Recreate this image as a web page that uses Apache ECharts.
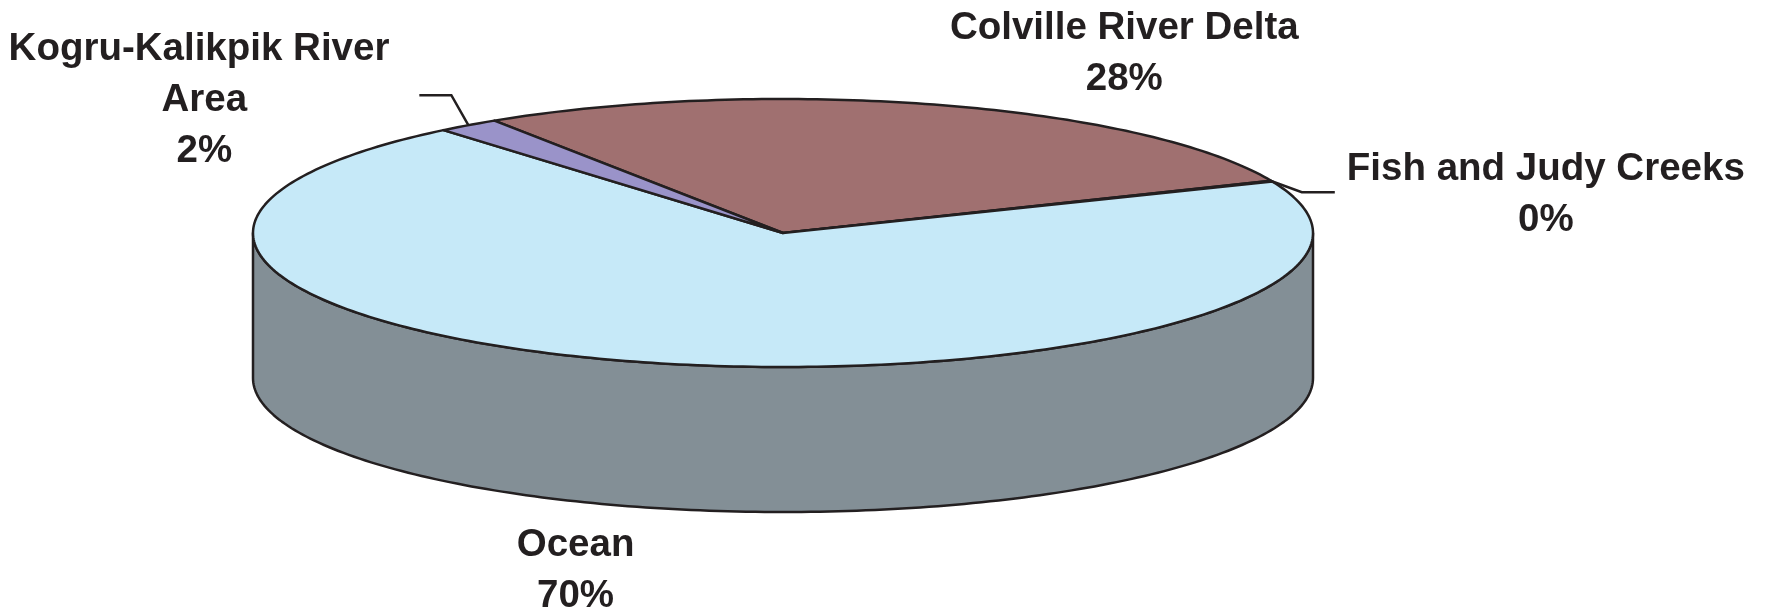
<!DOCTYPE html>
<html>
<head>
<meta charset="utf-8">
<title>Share by area</title>
<script src="https://cdn.jsdelivr.net/npm/echarts@6/dist/echarts.min.js"></script>
<style>
  html, body { margin: 0; background: #fff; }
  #chart { width: 1769px; height: 615px; }
</style>
</head>
<body>
<div id="chart"></div>
<script>
// slices in clockwise order, starting from the Colville/Kogru edge
const categories = ['Colville River Delta', 'Fish and Judy Creeks', 'Ocean', 'Kogru-Kalikpik River Area'];
const shares = [27.8, 0.1, 70.2, 1.9];

const topColors = ['#a07070', '#a9c4da', '#c6e9f8', '#9a93c9'];
const sideColors = ['#6f4e4e', '#76848e', '#838f96', '#6b6692'];

// label offsets from the slice rim point, leader line bends relative to that point
const labelLayout = [
  { dx: 186, dy: -51 },
  { dx: 274, dy: 14, leader: [[30, 11], [63, 11]] },
  { dx: -81, dy: 63, onWall: true },
  { dx: -264, dy: -25, width: 396, leader: [[-17, -30], [-49, -30]] }
];

const PIE = { cx: 783, cy: 233, rx: 530, ry: 134, depth: 145, startAngle: 123 };
const INK = '#231f20';

const total = shares.reduce((a, b) => a + b, 0);
const slices = [];
let acc = PIE.startAngle;
shares.forEach((v) => {
  const span = (v / total) * 360;
  slices.push({ hi: acc, lo: acc - span });
  acc -= span;
});

function rim(deg, drop) {
  const r = (deg * Math.PI) / 180;
  return [PIE.cx + PIE.rx * Math.cos(r), PIE.cy - PIE.ry * Math.sin(r) + (drop || 0)];
}

function arc(from, to, drop) {
  const n = Math.max(2, Math.ceil(Math.abs(to - from)));
  const pts = [];
  for (let i = 0; i <= n; i++) pts.push(rim(from + ((to - from) * i) / n, drop));
  return pts;
}

function renderWall(params) {
  const s = slices[params.dataIndex];
  const children = [];
  // front half of the rim is -180..0 degrees (mod 360)
  for (let k = -2; k <= 1; k++) {
    const a = Math.max(s.lo, -180 + 360 * k);
    const b = Math.min(s.hi, 360 * k);
    if (b - a > 0.01) {
      children.push({
        type: 'polygon',
        shape: { points: arc(a, b, 0).concat(arc(b, a, PIE.depth)) },
        style: { fill: sideColors[params.dataIndex], stroke: INK, lineWidth: 2.5, lineJoin: 'round' }
      });
    }
  }
  return { type: 'group', children };
}

function renderTop(params) {
  const s = slices[params.dataIndex];
  return {
    type: 'polygon',
    shape: { points: [[PIE.cx, PIE.cy]].concat(arc(s.hi, s.lo, 0)) },
    style: { fill: topColors[params.dataIndex], stroke: INK, lineWidth: 2.5, lineJoin: 'round' }
  };
}

function renderLabel(params, api) {
  const i = params.dataIndex;
  const s = slices[i];
  const lay = labelLayout[i];
  const anchor = rim((s.hi + s.lo) / 2, lay.onWall ? PIE.depth : 0);
  const pct = Math.round((api.value(0) / total) * 100) + '%';
  const children = [{
    type: 'text',
    x: anchor[0] + lay.dx,
    y: anchor[1] + lay.dy,
    style: {
      text: categories[i] + '\n' + pct,
      fill: INK,
      fontFamily: '"Liberation Sans", Arial, sans-serif',
      fontWeight: 'bold',
      fontSize: 38.5,
      lineHeight: 51,
      align: 'center',
      verticalAlign: 'middle',
      width: lay.width,
      overflow: lay.width ? 'break' : 'none'
    }
  }];
  if (lay.leader) {
    children.push({
      type: 'polyline',
      shape: { points: [anchor].concat(lay.leader.map((p) => [anchor[0] + p[0], anchor[1] + p[1]])) },
      style: { fill: null, stroke: INK, lineWidth: 2.5 }
    });
  }
  return { type: 'group', children };
}

const data = shares.map((v, i) => ({ name: categories[i], value: v }));

const chart = echarts.init(document.getElementById('chart'));
chart.setOption({
  backgroundColor: '#fff',
  animation: false,
  series: [
    { type: 'custom', coordinateSystem: 'none', z: 1, data, renderItem: renderWall },
    { type: 'custom', coordinateSystem: 'none', z: 2, data, renderItem: renderTop },
    { type: 'custom', coordinateSystem: 'none', z: 3, data, renderItem: renderLabel }
  ]
});
</script>
</body>
</html>
